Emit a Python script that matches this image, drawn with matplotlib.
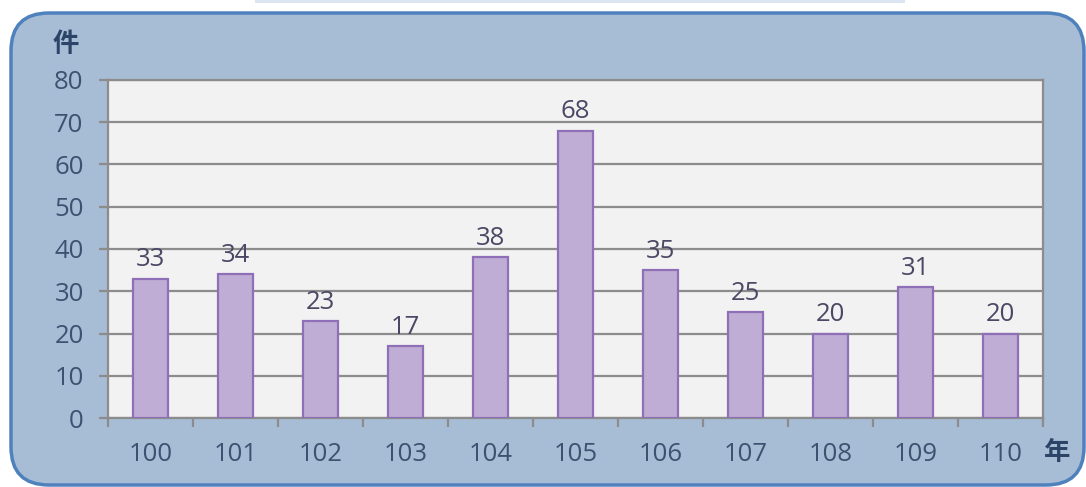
import matplotlib.pyplot as plt
from matplotlib.patches import FancyBboxPatch, Rectangle

plt.rcParams['font.family'] = ['Open Sans', 'Noto Sans CJK TC', 'DejaVu Sans']

years = ['100', '101', '102', '103', '104', '105', '106', '107', '108', '109', '110']
counts = [33, 34, 23, 17, 38, 68, 35, 25, 20, 31, 20]
y_ticks = [0, 10, 20, 30, 40, 50, 60, 70, 80]

W, H = 1086, 487
fig = plt.figure(figsize=(W / 100, H / 100), dpi=100)
fig.patch.set_facecolor('white')

# rounded panel behind the chart
panel = FancyBboxPatch((11 / W, 2 / H), (W - 13) / W, (H - 15) / H,
                       boxstyle='round,pad=0,rounding_size=0.035',
                       transform=fig.transFigure, facecolor='#a7bcd5',
                       edgecolor='#4f81bd', linewidth=2.5, mutation_aspect=W / H,
                       zorder=-10)
fig.patches.append(panel)
fig.patches.append(Rectangle((255 / W, (H - 3) / H), 650 / W, 3 / H,
                             transform=fig.transFigure, facecolor='#dce6f2',
                             edgecolor='none', zorder=-10))

ax = fig.add_axes([108 / W, 69 / H, 935 / W, 338 / H])
ax.set_zorder(5)
ax.set_facecolor('#f2f2f2')

x = range(len(years))
bars = ax.bar(x, counts, width=0.42, color='#bfadd5', edgecolor='#8e6fb8',
              linewidth=1.6, zorder=3)
for b, v in zip(bars, counts):
    ax.annotate(str(v), (b.get_x() + b.get_width() / 2, v), xytext=(0, 4.5),
                textcoords='offset points', ha='center', va='bottom',
                fontsize=18.5, color='#4a4864')

ax.set_xlim(-0.5, len(years) - 0.5)
ax.set_ylim(0, 80)
ax.set_yticks(y_ticks)
ax.yaxis.grid(True, color='#8c8c8c', linewidth=1.6, zorder=1)
ax.set_axisbelow(True)

ax.set_xticks([i - 0.5 for i in range(len(years) + 1)])
ax.set_xticklabels([])
ax.set_xticks(list(x), minor=True)
ax.set_xticklabels(years, minor=True)
ax.tick_params(axis='x', which='major', length=6.5, width=1.6, color='#8c8c8c')
ax.tick_params(axis='x', which='minor', length=0, pad=17, labelsize=18.5,
               labelcolor='#3d5271')
ax.tick_params(axis='y', length=6.5, width=1.6, color='#8c8c8c', labelsize=18.5,
               labelcolor='#3d5271', pad=11)

for side in ['left', 'bottom', 'right', 'top']:
    ax.spines[side].set_color('#8c8c8c')
    ax.spines[side].set_linewidth(1.6)

fig.text(66 / W, 1 - 45 / H, '件', fontsize=19, color='#2b4468',
         ha='center', va='center', fontweight='bold')
fig.text(1057 / W, 1 - 452 / H, '年', fontsize=19, color='#2b4468',
         ha='center', va='center', fontweight='bold')

fig.savefig('out.png', dpi=100)
